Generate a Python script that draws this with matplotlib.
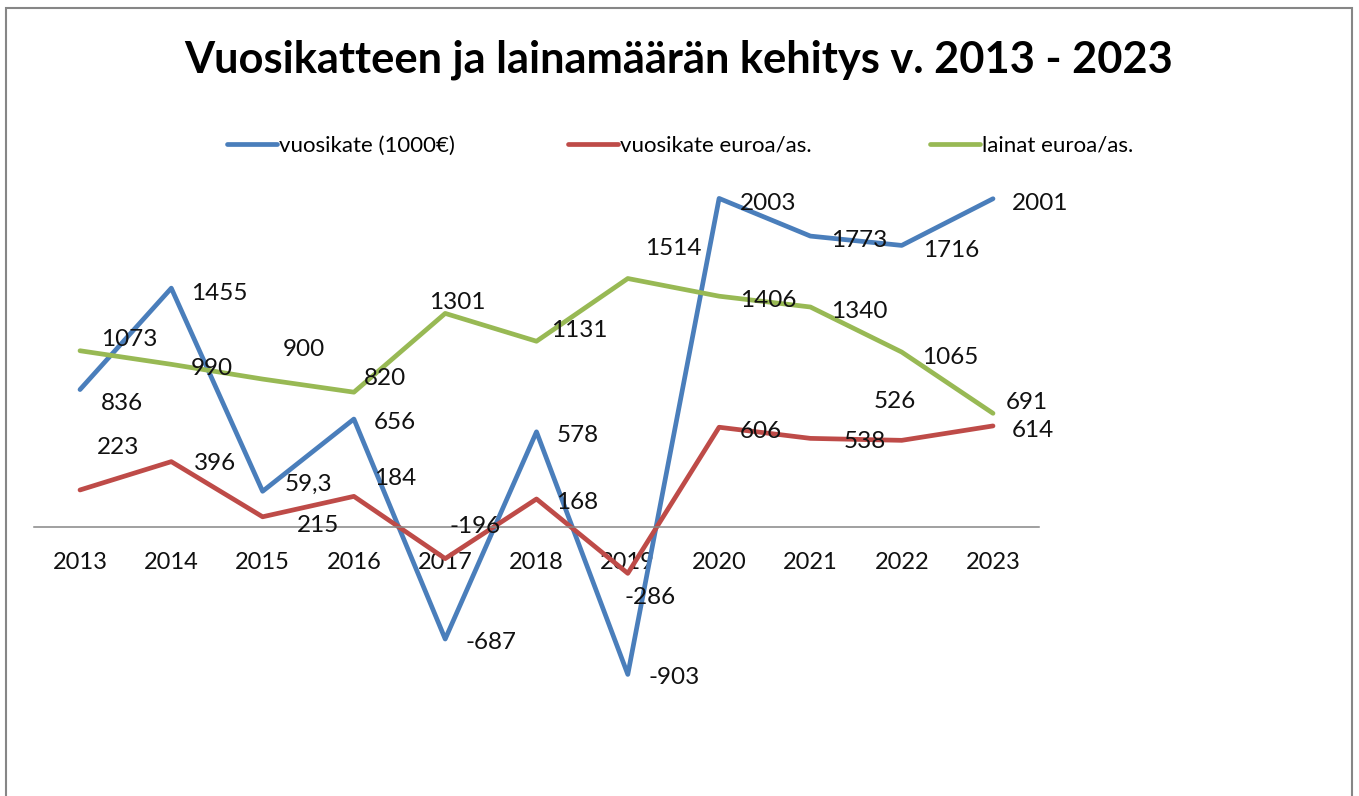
import matplotlib
matplotlib.use("Agg")
import matplotlib.pyplot as plt
from matplotlib.patches import Rectangle

plt.rcParams['font.family'] = ['Lato', 'DejaVu Sans']

# ---- data ----
years = ['2013', '2014', '2015', '2016', '2017', '2018', '2019', '2020', '2021', '2022', '2023']
vuosikate_1000 = [836, 1455, 215, 656, -687, 578, -903, 2003, 1773, 1716, 2001]
vuosikate_as = [223, 396, 59.3, 184, -196, 168, -286, 606, 538, 526, 614]
lainat_as = [1073, 990, 900, 820, 1301, 1131, 1514, 1406, 1340, 1065, 691]
series_names = ['vuosikate (1000€)', 'vuosikate euroa/as.', 'lainat euroa/as.']
title = 'Vuosikatteen ja lainamäärän kehitys v. 2013 - 2023'

# ---- label placement (pixel offsets from the point: right, up) ----
off_blue = [(42, -12), (48, -3), (55, -32), (41, -1), (46, -1), (41, -2),
            (46, -1), (49, -3), (49, -2), (49, -3), (47, -3)]
off_red = [(38, 44), (44, 0), (46, 34), (41, 20), (30, 34), (41, -2),
           (22, -22), (42, -2), (54, -1), (-7, 41), (40, -3)]
off_green = [(49, 13), (41, -2), (41, 32), (31, 16), (12, 13), (43, 13),
             (45, 32), (49, -2), (49, -2), (49, -3), (34, 13)]

colors = ['#4A7EBB', '#BE4B48', '#98B954']


def fmt(v):
    if float(v).is_integer():
        return str(int(v))
    return str(v).replace('.', ',')


W, H = 1359, 796
fig = plt.figure(figsize=(W / 100, H / 100), dpi=100)
fig.patch.set_facecolor('white')

zero_px = 526.5
scale = 0.1638
top_px, bot_px = 180, 700
left_px, right_px = 34.35, 1038.65
ax = fig.add_axes([left_px / W, (H - bot_px) / H, (right_px - left_px) / W, (bot_px - top_px) / H])
ax.set_xlim(-0.5, len(years) - 0.5)
ax.set_ylim(-(bot_px - zero_px) / scale, (zero_px - top_px) / scale)
ax.patch.set_alpha(0)

x = list(range(len(years)))
lines = []
for vals, col, name, offs in zip([vuosikate_1000, vuosikate_as, lainat_as], colors, series_names,
                                 [off_blue, off_red, off_green]):
    ln, = ax.plot(x, vals, color=col, lw=3.4, solid_capstyle='round', solid_joinstyle='round',
                  label=name, zorder=2)
    lines.append(ln)
    for xi, v, (dx, dy) in zip(x, vals, offs):
        ax.annotate(fmt(v), (xi, v), xytext=(dx, dy), textcoords='offset pixels',
                    ha='center', va='center_baseline', fontsize=17.5, color='#111111', zorder=4)

for s in ['left', 'right', 'top']:
    ax.spines[s].set_visible(False)
ax.spines['bottom'].set_position(('data', 0))
ax.spines['bottom'].set_color('#868686')
ax.spines['bottom'].set_linewidth(1.1)
ax.set_yticks([])
ax.set_xticks(x)
ax.set_xticklabels(years, fontsize=17, color='#111111')
ax.tick_params(axis='x', length=0, pad=24.8)
for lbl in ax.get_xticklabels():
    lbl.set_va('center_baseline')

# title
fig.text(679 / W, 1 - 73 / H, title, ha='center', va='baseline', fontsize=31.2,
         fontweight='bold', color='black')

# legend entries
for ln, xpx in zip(lines, [227, 568, 930]):
    fig.legend(handles=[ln], labels=[ln.get_label()], loc='center left',
               bbox_to_anchor=(xpx / W, 1 - 146 / H), frameon=False, borderpad=0,
               borderaxespad=0, handlelength=2.25, handletextpad=0.1, fontsize=16)

# chart border
fig.add_artist(Rectangle((6 / W, -0.02), (1352 - 6) / W, (H - 8) / H + 0.02,
                         transform=fig.transFigure, fill=False, edgecolor='#868686', lw=1.5))

fig.savefig('out.png', dpi=100)
